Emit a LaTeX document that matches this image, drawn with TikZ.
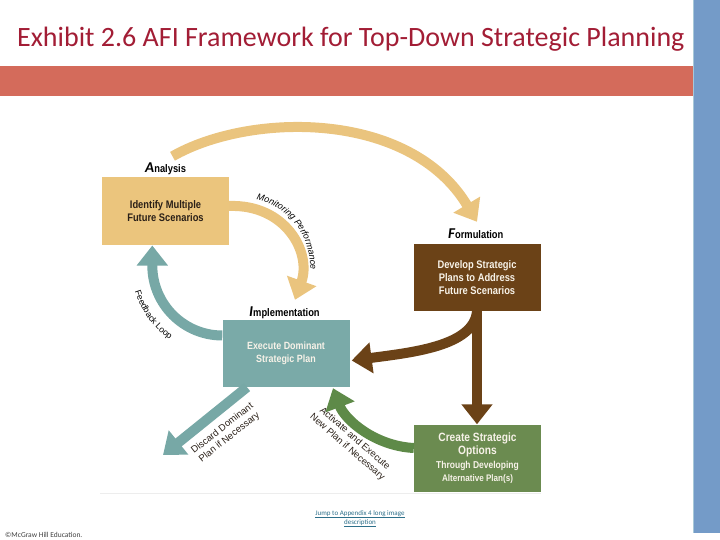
\documentclass[tikz,border=0pt]{standalone}
\usepackage{fontspec}
\setmainfont{Carlito}
\newfontfamily\condf[FakeStretch=0.85]{Liberation Sans}
\newfontfamily\plainf{Liberation Sans}
\usetikzlibrary{arrows.meta,decorations.text,calc}
\definecolor{cTitle}{HTML}{A21D35}
\definecolor{cBand}{HTML}{D46B5B}
\definecolor{cBlue}{HTML}{749BC8}
\definecolor{cBlueEdge}{HTML}{A8C8D8}
\definecolor{cTan}{HTML}{EBC57D}
\definecolor{cTanA}{HTML}{EAC47E}
\definecolor{cBrown}{HTML}{6B4217}
\definecolor{cTeal}{HTML}{7AAAA8}
\definecolor{cTealA}{HTML}{77A8A6}
\definecolor{cGreen}{HTML}{6B8B50}
\definecolor{cGreenA}{HTML}{5E8A48}
\definecolor{cInk}{HTML}{2A2018}
\definecolor{cCream}{HTML}{F7F2E8}
\definecolor{cLink}{HTML}{2D6F8A}
\definecolor{cFaint}{HTML}{EDEDED}
\definecolor{cFoot}{HTML}{404040}
\newcommand\boxfont{\condf\bfseries\fontsize{11}{13}\selectfont}
\newcommand\smallfont{\plainf\fontsize{9.5}{11.5}\selectfont}
\newcommand\smallit{\plainf\itshape\fontsize{9}{11}\selectfont}
\newcommand\smallrm{\plainf\fontsize{8.7}{11}\selectfont}
\newcommand\lblfont{\condf\bfseries\fontsize{11}{12}\selectfont}
\newcommand\bigA[1]{{\fontsize{15}{15}\selectfont\bfseries\itshape #1}}
\begin{document}
\begin{tikzpicture}[x=1pt,y=-1pt,
  stage/.style={minimum width=127pt,minimum height=67pt,inner sep=0pt,align=center,font=\boxfont},
  stagelbl/.style={inner sep=0pt,anchor=base west,text=black},
  flow/.style={line width=10pt,-{Triangle[width=30pt,length=20pt]}},
  note/.style={inner sep=0pt,align=center,font=\smallfont,text=cInk}]
\useasboundingbox (0,0) rectangle (720,540);
% frame elements
\fill[cBand] (0,66) rectangle (693,96);
\fill[cBlue] (693,0) rectangle (720,533);
\draw[cBlueEdge,line width=1pt] (693.5,0) -- (693.5,533);
\draw[cFaint,line width=1pt] (100,493) -- (541,493);
\node[anchor=base west,inner sep=0pt,text=cTitle,font=\fontsize{28}{30}\selectfont] (title) at (17,47)
  {Exhibit 2.6 AFI Framework for Top-Down Strategic Planning};
% stages
\node[stage,fill=cTan,text=cInk] (ana) at (165.5,211) {Identify Multiple\\Future Scenarios};
\node[stage,fill=cBrown,text=cCream] (form) at (477,277.5) {Develop Strategic\\Plans to Address\\Future Scenarios};
\node[stage,fill=cTeal,text=cCream,font=\condf\bfseries\fontsize{10.5}{13}\selectfont] (impl) at (286,353.5) {Execute Dominant\\Strategic Plan};
\node[stage,fill=cGreen,text=cCream,align=center] (crt) at (477.5,458)
  {{\fontsize{12}{14}\selectfont Create Strategic}\\{\fontsize{12}{14}\selectfont Options}\\[1pt]
   {\fontsize{10}{13}\selectfont Through Developing}\\{\fontsize{9.5}{13}\selectfont Alternative Plan(s)}};
% stage labels
\node[stagelbl] (lA) at (145,173) {\bigA{A}\lblfont nalysis};
\node[stagelbl] (lF) at (448,239) {\bigA{F}\lblfont ormulation};
\node[stagelbl] (lI) at (249,316) {\bigA{I}\lblfont mplementation};
% connectors
\coordinate (topStart) at ($(ana.north)+(7,-21)$);
\draw[flow,cTanA] (topStart) .. controls (250,112) and (410,110) .. ($(form.north)+(0,-22)$);
\draw[flow,cTanA] ($(ana.east)+(0,-5)$) .. controls (285,204) and (312,252) .. ($(impl.north)+(9,-20)$);
\draw[flow,cTealA] ($(impl.west)+(0,-18)$) arc (90:180:70) -- ++(0,-20);
\coordinate (discEnd) at (163,455);
\draw[flow,cTealA] ($(impl.south)+(-39,0)$) -- (discEnd);
\draw[flow,cBrown] (form.south) -- (form.south |- crt.north);
\draw[flow,cBrown] (form.south) .. controls +(-3,35) and +(60,-8) .. ($(impl.east)+(2,7)$);
\draw[flow,cGreenA] ($(crt.west)+(0,-10)$) .. controls (375,446) and (345,420) .. ($(impl.south)+(47,1)$);
% connector labels
\path[decorate,decoration={text along path,text align=center,
  text={|\smallit|Monitoring Performance}}]
  (236,198) .. controls (292,196) and (319,245) .. (308,290);
\path[decorate,decoration={text along path,text align=center,
  text={|\smallrm|Feedback Loop}}]
  ($(222,265)+(168:91)$) arc (168:120:91);
\node[note,rotate=38] (discTxt) at (226,433) {Discard Dominant\\Plan if Necessary};
\node[note,rotate=-41] (actTxt) at (351,443) {Activate and Execute\\New Plan if Necessary};
% footer
\node[anchor=base west,inner sep=0pt,text=cFoot,font=\fontsize{7.5}{8}\selectfont] (foot) at (5,537) {\textcopyright McGraw Hill Education.};
\node[anchor=north,inner sep=0pt,text=cLink,align=center,font=\fontsize{7}{9}\selectfont] (link) at (360,510)
  {\underline{Jump to Appendix 4 long image}\\\underline{description}};
\end{tikzpicture}
\end{document}
